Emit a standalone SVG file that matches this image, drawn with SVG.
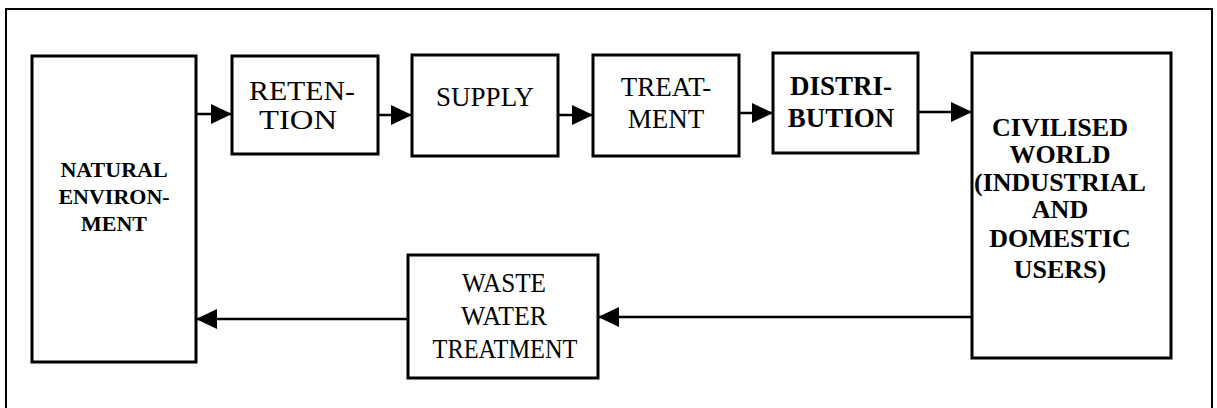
<svg xmlns="http://www.w3.org/2000/svg" width="1217" height="408" viewBox="0 0 1217 408">
  <style>
    .frame { fill: none; stroke: #000; stroke-width: 2; }
    .box { fill: #fff; stroke: #000; stroke-width: 3; }
    .flow { fill: none; stroke: #000; stroke-width: 2.5; }
  </style>
  <defs>
    <marker id="head" markerUnits="userSpaceOnUse" markerWidth="22" markerHeight="22" refX="21" refY="10" orient="auto">
      <path d="M0,0 L21,10 L0,20 Z" fill="#000"/>
    </marker>
  </defs>

  <rect fill="#fff" x="0" y="0" width="1217" height="408"/>
  <!-- outer frame, open at the bottom -->
  <path class="frame" d="M6,420 L6,9 L1212,9 L1212,420"/>

  <g id="natural-environment">
    <rect class="box" x="32" y="56" width="164" height="306"/>
    <text x="114" y="177" font-family="Liberation Serif" font-size="22" font-weight="bold" text-anchor="middle">NATURAL</text>
    <text x="114" y="204" font-family="Liberation Serif" font-size="22" font-weight="bold" text-anchor="middle">ENVIRON-</text>
    <text x="114" y="231" font-family="Liberation Serif" font-size="22" font-weight="bold" text-anchor="middle">MENT</text>
  </g>

  <g id="retention">
    <rect class="box" x="232" y="56" width="146" height="98"/>
    <text x="302" y="100" font-family="Liberation Serif" font-size="28" text-anchor="middle" textLength="106" lengthAdjust="spacingAndGlyphs">RETEN-</text>
    <text x="298" y="129" font-family="Liberation Serif" font-size="28" text-anchor="middle" textLength="78" lengthAdjust="spacingAndGlyphs">TION</text>
  </g>

  <g id="supply">
    <rect class="box" x="412" y="55" width="146" height="101"/>
    <text x="485" y="106" font-family="Liberation Serif" font-size="27" text-anchor="middle">SUPPLY</text>
  </g>

  <g id="treatment">
    <rect class="box" x="593" y="55" width="146" height="101"/>
    <text x="666" y="96" font-family="Liberation Serif" font-size="27" text-anchor="middle">TREAT-</text>
    <text x="666" y="128" font-family="Liberation Serif" font-size="27" text-anchor="middle">MENT</text>
  </g>

  <g id="distribution">
    <rect class="box" x="773" y="53" width="145" height="100"/>
    <text x="841" y="95" font-family="Liberation Serif" font-size="27" font-weight="bold" text-anchor="middle">DISTRI-</text>
    <text x="841" y="127" font-family="Liberation Serif" font-size="27" font-weight="bold" text-anchor="middle">BUTION</text>
  </g>

  <g id="civilised-world">
    <rect class="box" x="972" y="53" width="199" height="305"/>
    <text x="1060" y="136" font-family="Liberation Serif" font-size="26" font-weight="bold" text-anchor="middle">CIVILISED</text>
    <text x="1060" y="163" font-family="Liberation Serif" font-size="26" font-weight="bold" text-anchor="middle">WORLD</text>
    <text x="1060" y="191" font-family="Liberation Serif" font-size="26" font-weight="bold" text-anchor="middle">(INDUSTRIAL</text>
    <text x="1060" y="218" font-family="Liberation Serif" font-size="26" font-weight="bold" text-anchor="middle">AND</text>
    <text x="1060" y="247" font-family="Liberation Serif" font-size="26" font-weight="bold" text-anchor="middle">DOMESTIC</text>
    <text x="1060" y="278" font-family="Liberation Serif" font-size="26" font-weight="bold" text-anchor="middle">USERS)</text>
  </g>

  <g id="waste-water-treatment">
    <rect class="box" x="408" y="255" width="190" height="123"/>
    <text x="504" y="292" font-family="Liberation Serif" font-size="27" text-anchor="middle" textLength="84" lengthAdjust="spacingAndGlyphs">WASTE</text>
    <text x="504" y="325" font-family="Liberation Serif" font-size="27" text-anchor="middle" textLength="86" lengthAdjust="spacingAndGlyphs">WATER</text>
    <text x="505" y="358" font-family="Liberation Serif" font-size="27" text-anchor="middle" textLength="145" lengthAdjust="spacingAndGlyphs">TREATMENT</text>
  </g>

  <g id="connectors">
    <line class="flow" x1="196" y1="114" x2="232" y2="114" marker-end="url(#head)"/>
    <line class="flow" x1="378" y1="115" x2="412" y2="115" marker-end="url(#head)"/>
    <line class="flow" x1="558" y1="115" x2="593" y2="115" marker-end="url(#head)"/>
    <line class="flow" x1="739" y1="113" x2="773" y2="113" marker-end="url(#head)"/>
    <line class="flow" x1="918" y1="112" x2="972" y2="112" marker-end="url(#head)"/>
    <line class="flow" x1="972" y1="317" x2="598" y2="317" marker-end="url(#head)"/>
    <line class="flow" x1="408" y1="319" x2="196" y2="319" marker-end="url(#head)"/>
  </g>
</svg>
